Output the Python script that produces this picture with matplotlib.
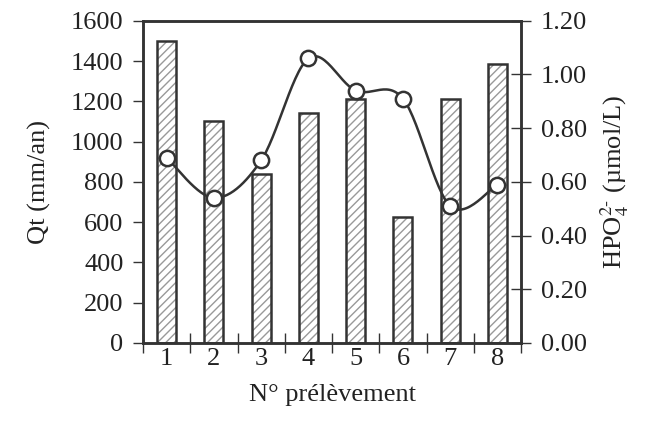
import numpy as np
import matplotlib
matplotlib.use("Agg")
from matplotlib import pyplot as plt
from matplotlib.ticker import FormatStrFormatter, FixedLocator

plt.rcParams['font.family'] = ['Liberation Serif', 'DejaVu Serif']
plt.rcParams['mathtext.fontset'] = 'stix'
plt.rcParams['hatch.linewidth'] = 1.0

samples = [1, 2, 3, 4, 5, 6, 7, 8]
qt = [1500, 1100, 840, 1140, 1210, 625, 1210, 1385]
hpo4 = [0.69, 0.54, 0.68, 1.06, 0.94, 0.91, 0.51, 0.59]

dark = '#333333'
txt = '#222222'
fs = 19


def smooth(x, y, n=30):
    # Catmull-Rom style smoothing, like a spreadsheet "smoothed line"
    x = np.asarray(x, float)
    y = np.asarray(y, float)
    px = np.concatenate([[x[0]], x, [x[-1]]])
    py = np.concatenate([[y[0]], y, [y[-1]]])
    xs, ys = [], []
    t = np.linspace(0, 1, n)
    for i in range(1, len(px) - 2):
        p0, p1, p2, p3 = [np.array([px[j], py[j]]) for j in (i - 1, i, i + 1, i + 2)]
        c1 = p1 + (p2 - p0) / 6
        c2 = p2 - (p3 - p1) / 6
        pts = ((1 - t) ** 3)[:, None] * p1 + (3 * (1 - t) ** 2 * t)[:, None] * c1 \
            + (3 * (1 - t) * t ** 2)[:, None] * c2 + (t ** 3)[:, None] * p2
        xs.extend(pts[:, 0])
        ys.extend(pts[:, 1])
    return np.array(xs), np.array(ys)


fig, ax1 = plt.subplots(figsize=(6.53, 4.43), dpi=100)
fig.subplots_adjust(left=0.219, right=0.798, bottom=0.226, top=0.953)

ax1.bar(samples, qt, width=0.4, color='white', edgecolor='#999999', hatch='////', linewidth=0)
ax1.bar(samples, qt, width=0.4, fill=False, edgecolor=dark, linewidth=1.8)

ax1.set_xlim(0.5, 8.5)
ax1.set_ylim(0, 1600)
ax1.set_yticks(range(0, 1601, 200))
ax1.set_xticks(samples)
ax1.xaxis.set_minor_locator(FixedLocator(np.arange(0.5, 9, 1)))
ax1.tick_params(axis='x', which='major', length=0, pad=4, labelsize=fs, labelcolor=txt)
ax1.tick_params(axis='x', which='minor', direction='inout', length=14, width=1, color=dark)
ax1.tick_params(axis='y', direction='out', length=7, width=1, color=dark,
                labelsize=fs, labelcolor=txt, pad=7)
ax1.set_ylabel('Qt (mm/an)', fontsize=fs, labelpad=14, color=txt)
ax1.set_xlabel('N° prélèvement', fontsize=fs, labelpad=10, color=txt)

ax2 = ax1.twinx()
sx, sy = smooth(samples, hpo4)
ax2.plot(sx, sy, color=dark, linewidth=1.8)
ax2.plot(samples, hpo4, 'o', markersize=11, markerfacecolor='white',
         markeredgecolor=dark, markeredgewidth=1.8)
ax2.set_ylim(0, 1.2)
ax2.set_yticks(np.arange(0, 1.21, 0.2))
ax2.yaxis.set_major_formatter(FormatStrFormatter('%.2f'))
ax2.tick_params(axis='y', direction='inout', length=14, width=1, color=dark,
                labelsize=fs, labelcolor=txt, pad=7)
ax2.set_ylabel(r'HPO$_4^{2\text{-}}$ (µmol/L)', fontsize=fs, labelpad=8, color=txt)

for ax in (ax1, ax2):
    for s in ax.spines.values():
        s.set_linewidth(1.8)
        s.set_color(dark)

fig.savefig('out.png', dpi=100)
